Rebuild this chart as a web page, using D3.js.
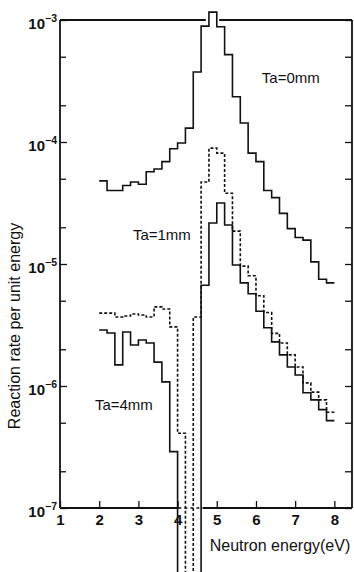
<!DOCTYPE html>
<html>
<head>
<meta charset="utf-8">
<script src="https://cdn.jsdelivr.net/npm/d3@7"></script>
<style>
  body { margin: 0; background: #fff; }
  text { font-family: "Liberation Sans", Arial, sans-serif; fill: #111; }
</style>
</head>
<body>
<div class="chart"></div>
<script>
// histogram bins: 0.2 eV wide, starting at 2.0 eV
const energyStart = 2.0;
const binWidth = 0.2;

// null = below the plotted range (line runs off the bottom)
const ta0mm = [4.8e-5, 4.0e-5, 4.0e-5, 4.4e-5, 4.7e-5, 4.5e-5, 5.7e-5, 6.0e-5, 6.9e-5, 8.8e-5,
  9.8e-5, 1.3e-4, 3.75e-4, 8.9e-4, 1.16e-3, 8.8e-4, 5.2e-4, 2.35e-4, 1.43e-4, 8.1e-5,
  6.9e-5, 4.0e-5, 3.5e-5, 2.6e-5, 1.95e-5, 1.65e-5, 1.57e-5, 1.04e-5, 7.5e-6, 7.0e-6];
const ta1mm = [3.96e-6, 3.96e-6, 3.68e-6, 3.75e-6, 3.89e-6, 3.82e-6, 3.68e-6, 4.45e-6, 4.28e-6, 3.05e-6,
  4.1e-7, null, 3.68e-6, 4.7e-5, 8.9e-5, 8.1e-5, 3.8e-5, 1.86e-5, 9.6e-6, 8.0e-6,
  5.5e-6, 4.0e-6, 2.7e-6, 2.25e-6, 1.8e-6, 1.43e-6, 1.06e-6, 8.9e-7, 7.7e-7, 6.1e-7];
const ta4mm = [2.88e-6, 2.72e-6, 1.49e-6, 2.77e-6, 2.17e-6, 2.38e-6, 2.25e-6, 1.57e-6, 1.08e-6, 2.9e-7,
  null, null, null, 6.7e-6, 2.17e-5, 3.16e-5, 2.09e-5, 9.8e-6, 7.0e-6, 5.7e-6,
  4.1e-6, 3.0e-6, 2.3e-6, 1.8e-6, 1.43e-6, 1.23e-6, 8.8e-7, 7.7e-7, 6.4e-7, 5.2e-7];

const xTicks = [1, 2, 3, 4, 5, 6, 7, 8];
const yExponents = [-3, -4, -5, -6, -7];
const yMinor = [5e-4, 2e-4, 5e-5, 2e-5, 5e-6, 2e-6, 5e-7, 2e-7];

const labels = [
  { text: "Ta=0mm", e: 6.15, v: 3.05e-4 },
  { text: "Ta=1mm", e: 2.86, v: 1.57e-5 },
  { text: "Ta=4mm", e: 1.89, v: 6.35e-7 },
];

const width = 354;
const height = 572;
const margin = { top: 20, right: 2, bottom: 64, left: 60 };
const innerW = width - margin.left - margin.right;
const innerH = height - margin.top - margin.bottom;

const svg = d3.select(".chart")
  .append("svg")
  .attr("width", width)
  .attr("height", height);

const g = svg.append("g")
  .attr("transform", `translate(${margin.left}, ${margin.top})`);

const x = d3.scaleLinear().domain([1, 8.45]).range([0, innerW]);
const y = d3.scaleLog().domain([1e-7, 1e-3]).range([innerH, 0]);

// axes
const majors = yExponents.map((p) => Math.pow(10, p));

g.append("g")
  .call(d3.axisLeft(y).tickValues(majors).tickSize(-7).tickFormat(""))
  .call((a) => a.select(".domain").remove());
g.append("g")
  .call(d3.axisLeft(y).tickValues(yMinor).tickSize(-6).tickFormat(""))
  .call((a) => a.select(".domain").remove());
g.append("g")
  .attr("transform", `translate(${innerW}, 0)`)
  .call(d3.axisRight(y).tickValues(majors.concat(yMinor)).tickSize(-7).tickFormat(""))
  .call((a) => a.select(".domain").remove());

const xAxis = g.append("g")
  .attr("transform", `translate(0, ${innerH})`)
  .call(d3.axisBottom(x).tickValues(xTicks).tickSize(-7).tickPadding(6).tickFormat(d3.format("d")));
xAxis.select(".domain").remove();
xAxis.selectAll("text")
  .attr("font-size", 15)
  .attr("font-weight", "bold")
  .style("font-family", '"Liberation Sans", Arial, sans-serif');

g.selectAll(".tick line").attr("stroke", "#111").attr("stroke-width", 1.3);

// y labels: 10 with superscript exponent
const yLab = g.append("g").selectAll("text")
  .data(yExponents)
  .join("text")
  .attr("x", -3)
  .attr("y", (p) => y(Math.pow(10, p)) + 9)
  .attr("text-anchor", "end")
  .attr("font-size", 15)
  .attr("font-weight", "bold");
yLab.append("tspan").text("10");
yLab.append("tspan")
  .attr("dy", -7)
  .attr("font-size", 10.5)
  .text((p) => "\u2212" + Math.abs(p));

// frame
const frame = g.append("g")
  .attr("fill", "none")
  .attr("stroke", "#111")
  .attr("stroke-width", 1.8);
frame.append("line").attr("x1", 0).attr("x2", 0).attr("y1", 0).attr("y2", innerH);
frame.append("line").attr("x1", innerW).attr("x2", innerW).attr("y1", 0).attr("y2", innerH);
frame.append("line").attr("x1", x(1)).attr("x2", x(4.72)).attr("y1", 0).attr("y2", 0);
frame.append("line").attr("x1", x(5.06)).attr("x2", innerW).attr("y1", 0).attr("y2", 0);
frame.append("line").attr("x1", x(1)).attr("x2", x(4.02)).attr("y1", innerH).attr("y2", innerH);
frame.append("line").attr("x1", x(4.02)).attr("x2", x(4.64)).attr("y1", innerH).attr("y2", innerH)
  .attr("stroke-dasharray", "3,3").attr("stroke-width", 1.4);
frame.append("line").attr("x1", x(4.64)).attr("x2", innerW).attr("y1", innerH).attr("y2", innerH);

// histograms
const offBottom = height - margin.top + 10;
const toSteps = (vals) => {
  const pts = vals.map((v, i) => ({ e: energyStart + i * binWidth, v }));
  pts.push({ e: energyStart + vals.length * binWidth, v: vals[vals.length - 1] });
  return pts;
};
const line = d3.line()
  .x((d) => x(d.e))
  .y((d) => (d.v == null ? offBottom : y(d.v)))
  .curve(d3.curveStepAfter);

const series = [
  { values: ta0mm, dash: null },
  { values: ta1mm, dash: "3,2" },
  { values: ta4mm, dash: null },
];

g.selectAll(".hist")
  .data(series)
  .join("path")
  .attr("class", "hist")
  .attr("fill", "none")
  .attr("stroke", "#111")
  .attr("stroke-width", 1.6)
  .attr("stroke-dasharray", (d) => d.dash)
  .attr("d", (d) => line(toSteps(d.values)));

// curve labels
g.selectAll(".lab")
  .data(labels)
  .join("text")
  .attr("class", "lab")
  .attr("x", (d) => x(d.e))
  .attr("y", (d) => y(d.v))
  .attr("font-size", 15)
  .text((d) => d.text);

// axis titles
svg.append("text")
  .attr("x", 280)
  .attr("y", 551)
  .attr("text-anchor", "middle")
  .attr("font-size", 16)
  .text("Neutron energy(eV)");

svg.append("text")
  .attr("transform", "translate(20, 326) rotate(-90)")
  .attr("text-anchor", "middle")
  .attr("font-size", 16)
  .text("Reaction rate per unit energy");
</script>
</body>
</html>
